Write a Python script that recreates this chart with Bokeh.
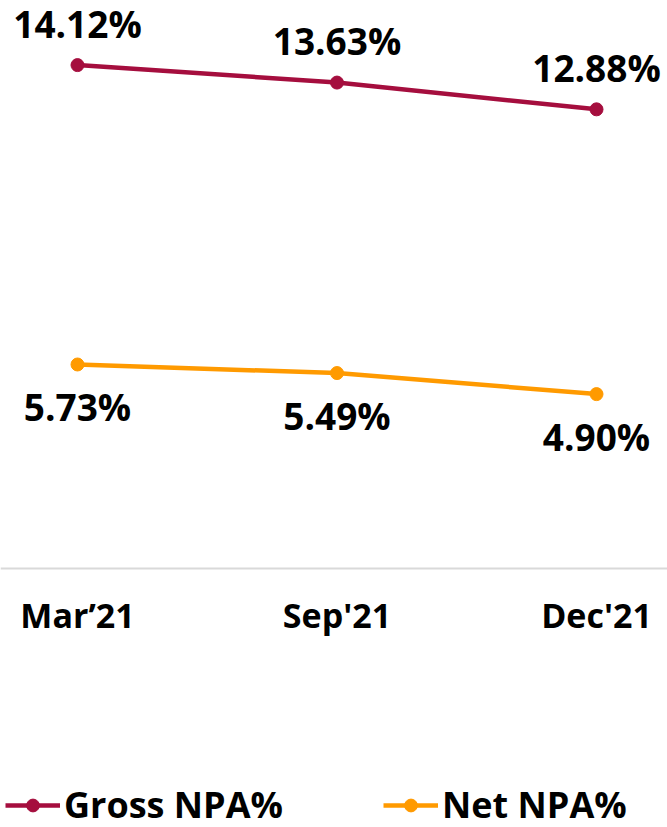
from bokeh.plotting import figure
from bokeh.models import ColumnDataSource, FixedTicker, Range1d, Legend, LegendItem
from bokeh.core.properties import value
from bokeh.embed import file_html
from bokeh.resources import INLINE

periods = ["Mar\u201921", "Sep'21", "Dec'21"]
gross_npa = [14.12, 13.63, 12.88]
net_npa = [5.73, 5.49, 4.90]
gross_labels = ["14.12%", "13.63%", "12.88%"]
net_labels = ["5.73%", "5.49%", "4.90%"]

xs = list(range(len(periods)))
GROSS = "#A50E3E"
NET = "#FF9A00"
FONT = "Open Sans"

p = figure(width=667, height=827, output_backend="svg", toolbar_location=None,
           x_range=Range1d(-0.2967, 2.2736), y_range=Range1d(-7.245, 15.93),
           y_axis_location=None, min_border_left=0, min_border_right=0,
           min_border_top=0, min_border_bottom=0)
p.outline_line_color = None
p.grid.visible = False
p.background_fill_color = "white"
p.border_fill_color = "white"

src_g = ColumnDataSource(dict(x=xs, y=gross_npa, t=gross_labels))
src_n = ColumnDataSource(dict(x=xs, y=net_npa, t=net_labels))

lg = p.line("x", "y", source=src_g, line_color=GROSS, line_width=4.5)
mg = p.scatter("x", "y", source=src_g, size=13, fill_color=GROSS, line_color=GROSS)
ln = p.line("x", "y", source=src_n, line_color=NET, line_width=4.5)
mn = p.scatter("x", "y", source=src_n, size=13, fill_color=NET, line_color=NET)

p.text("x", "y", text="t", source=src_g, text_font=value(FONT), text_font_style="bold",
       text_font_size="37px", text_align="center", text_baseline="middle",
       y_offset=-42, text_color="black")
p.text("x", "y", text="t", source=src_n, text_font=value(FONT), text_font_style="bold",
       text_font_size="37px", text_align="center", text_baseline="middle",
       y_offset=42, text_color="black")

ax = p.xaxis[0]
ax.fixed_location = 0
ax.ticker = FixedTicker(ticks=xs)
ax.major_label_overrides = {i: s for i, s in enumerate(periods)}
ax.axis_line_color = "#D9D9D9"
ax.axis_line_width = 2
ax.major_tick_line_color = None
ax.minor_tick_line_color = None
ax.major_label_text_font = FONT
ax.major_label_text_font_style = "bold"
ax.major_label_text_font_size = "34px"
ax.major_label_text_color = "black"
ax.major_label_standoff = 17

legend = Legend(items=[LegendItem(label="Gross NPA%", renderers=[lg, mg]),
                       LegendItem(label="Net NPA%", renderers=[ln, mn])],
                orientation="horizontal", location=(5, -2))
legend.label_text_font = FONT
legend.label_text_font_style = "bold"
legend.label_text_font_size = "36px"
legend.label_text_color = "black"
legend.glyph_width = 55
legend.glyph_height = 32
legend.label_standoff = 4
legend.spacing = 100
legend.padding = 0
legend.margin = 0
legend.border_line_alpha = 0
legend.background_fill_alpha = 0
p.add_layout(legend)

open("out.html", "w").write(file_html(p, INLINE))
